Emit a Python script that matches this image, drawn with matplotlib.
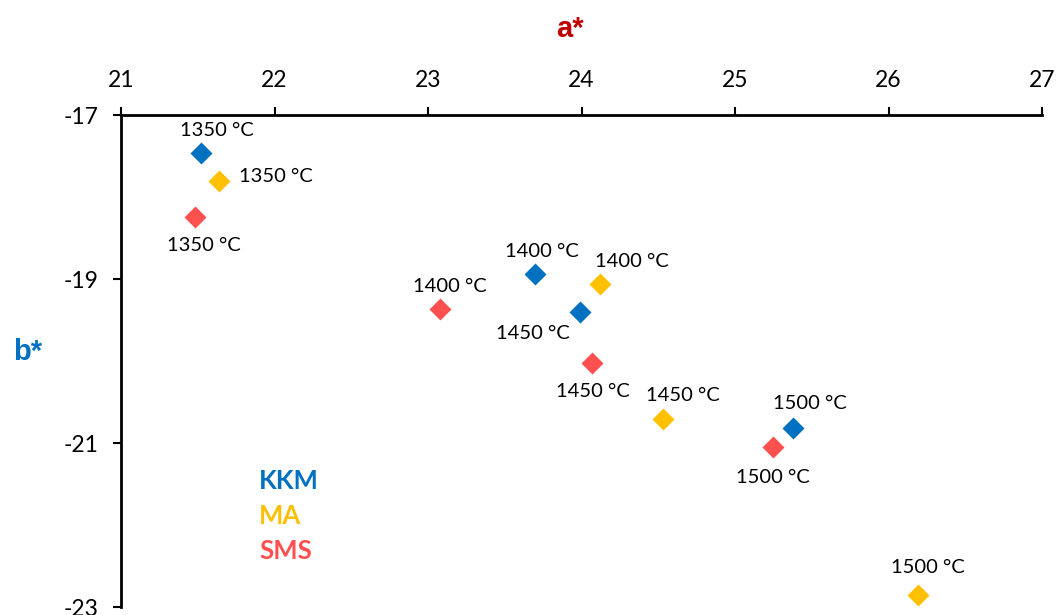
import matplotlib
matplotlib.use("Agg")
import matplotlib.pyplot as plt

plt.rcParams['font.family'] = ['Lato', 'DejaVu Sans']
plt.rcParams['axes.unicode_minus'] = False

# CIELAB a*/b* colour coordinates per pigment and firing temperature
temps = ["1350 °C", "1400 °C", "1450 °C", "1500 °C"]
kkm_a = [21.52, 23.70, 23.99, 25.38]
kkm_b = [-17.46, -18.94, -19.40, -20.82]
ma_a = [21.64, 24.12, 24.53, 26.19]
ma_b = [-17.80, -19.06, -20.71, -22.85]
sms_a = [21.48, 23.08, 24.07, 25.25]
sms_b = [-18.24, -19.37, -20.02, -21.05]

series_names = ["KKM", "MA", "SMS"]
colors = ["#0070C0", "#FFC000", "#FF5050"]

# label offsets in pixels (dx, dy) for each point, per series
kkm_off = [(16, 22), (6, 23), (-47, -22), (17, 25)]
ma_off = [(57, 4), (32, 22), (20, 24), (10, 27)]
sms_off = [(9, -29), (10, 23), (1, -29), (-1, -30)]

fig = plt.figure(figsize=(10.57, 6.15), dpi=100)
ax = fig.add_axes([121 / 1057, 8 / 615, 921 / 1057, 492 / 615])

data = [(kkm_a, kkm_b, kkm_off), (ma_a, ma_b, ma_off), (sms_a, sms_b, sms_off)]
for (xs, ys, offs), c in zip(data, colors):
    ax.plot(xs, ys, linestyle="none", marker="D", markersize=11.5,
            markerfacecolor=c, markeredgecolor="none", clip_on=False, zorder=3)
    for x, y, t, (dx, dy) in zip(xs, ys, temps, offs):
        ax.annotate(t, (x, y), xytext=(dx, dy), textcoords="offset pixels",
                    ha="center", va="center", fontsize=14.5, color="black")

ax.set_xlim(21, 27)
ax.set_ylim(-23, -17)
ax.set_xticks([21, 22, 23, 24, 25, 26, 27])
ax.set_yticks([-17, -19, -21, -23])
ax.xaxis.tick_top()
ax.tick_params(axis="both", direction="out", length=6, width=1.5,
               labelsize=16.5, colors="black")
ax.tick_params(axis="x", pad=11)
ax.tick_params(axis="y", pad=10)
for s in ["right", "bottom"]:
    ax.spines[s].set_visible(False)
for s in ["left", "top"]:
    ax.spines[s].set_linewidth(2)

fig.text(570 / 1057, 1 - 29 / 615, "a*", ha="center", va="center",
         fontsize=21, fontweight="bold", color="#C00000",
         family=["Liberation Sans", "DejaVu Sans"])
fig.text(28 / 1057, 1 - 352 / 615, "b*", ha="center", va="center",
         fontsize=21, fontweight="bold", color="#0070C0",
         family=["Liberation Sans", "DejaVu Sans"])

legend_y = [481, 516, 551]
for name, c, yy in zip(series_names, colors, legend_y):
    fig.text(259 / 1057, 1 - yy / 615, name, ha="left", va="center",
             fontsize=18.5, fontweight="bold", color=c)

fig.savefig("out.png", dpi=100)
